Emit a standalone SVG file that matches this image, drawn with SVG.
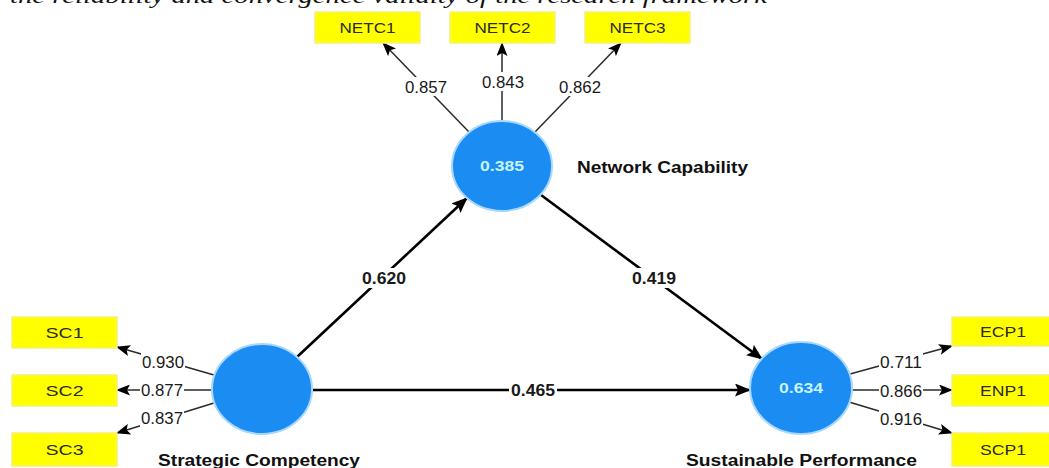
<svg xmlns="http://www.w3.org/2000/svg" width="1049" height="468" viewBox="0 0 1049 468">
<style>
  .box { fill: #ffff00; stroke: #f4f07c; stroke-width: 1.5; }
  .ind { font-family: "Liberation Sans", Arial, sans-serif; font-size: 15px; fill: #2a2a2a; text-anchor: middle; }
  .ld { font-family: "Liberation Sans", Arial, sans-serif; font-size: 16px; fill: #1a1a1a; text-anchor: middle; }
  .pc { font-family: "Liberation Sans", Arial, sans-serif; font-size: 16px; font-weight: bold; fill: #1a1a1a; text-anchor: middle; }
  .lv { fill: #1a8cf2; stroke: #a9d8ff; stroke-width: 2; }
  .r2 { font-family: "Liberation Sans", Arial, sans-serif; font-size: 15px; font-weight: bold; fill: #c6f3ff; text-anchor: middle; }
  .name { font-family: "Liberation Sans", Arial, sans-serif; font-size: 16px; font-weight: bold; fill: #111; }
  .path { stroke: #000; stroke-width: 2.6; fill: none; marker-end: url(#big); }
  .load { stroke: #2a2a2a; stroke-width: 1.5; fill: none; marker-end: url(#small); }
  .bg { fill: #ffffff; }
</style>
<defs>
  <marker id="big" viewBox="0 0 16 13" refX="15" refY="6.5" markerWidth="16" markerHeight="13" orient="auto" markerUnits="userSpaceOnUse">
    <path d="M0,0 L16,6.5 L0,13 L3,6.5 z" fill="#000"/>
  </marker>
  <marker id="small" viewBox="0 0 14 11" refX="13" refY="5.5" markerWidth="14" markerHeight="11" orient="auto" markerUnits="userSpaceOnUse">
    <path d="M0,0 L14,5.5 L0,11 L3,5.5 z" fill="#000"/>
  </marker>
</defs>
<rect width="1049" height="468" fill="#ffffff"/>
<text x="10" y="3" font-family="Liberation Serif, serif" font-style="italic" font-size="22" textLength="757" lengthAdjust="spacingAndGlyphs" fill="#111">the reliability and convergence validity of the research framework</text>

<g id="connectors">
  <line class="path" x1="297" y1="357" x2="467" y2="198"/>
  <line class="path" x1="541" y1="195" x2="762" y2="359"/>
  <line class="path" x1="313" y1="390" x2="750" y2="390"/>
  <line class="load" x1="469" y1="132" x2="383" y2="43"/>
  <line class="load" x1="502" y1="121" x2="502" y2="43"/>
  <line class="load" x1="535" y1="132" x2="621" y2="43"/>
  <line class="load" x1="214" y1="375" x2="117" y2="347"/>
  <line class="load" x1="212" y1="390" x2="117" y2="390"/>
  <line class="load" x1="214" y1="403" x2="117" y2="433"/>
  <line class="load" x1="850" y1="374" x2="952" y2="346"/>
  <line class="load" x1="852" y1="390" x2="952" y2="390"/>
  <line class="load" x1="849" y1="402" x2="952" y2="433"/>
  <rect class="bg" x="404" y="77" width="44" height="19"/>
  <text class="ld" x="426" y="93" textLength="42" lengthAdjust="spacingAndGlyphs">0.857</text>
  <rect class="bg" x="481" y="72" width="44" height="19"/>
  <text class="ld" x="503" y="88" textLength="42" lengthAdjust="spacingAndGlyphs">0.843</text>
  <rect class="bg" x="558" y="77" width="44" height="19"/>
  <text class="ld" x="580" y="93" textLength="42" lengthAdjust="spacingAndGlyphs">0.862</text>
  <rect class="bg" x="141" y="353" width="44" height="19"/>
  <text class="ld" x="163" y="368" textLength="42" lengthAdjust="spacingAndGlyphs">0.930</text>
  <rect class="bg" x="140" y="381" width="44" height="19"/>
  <text class="ld" x="162" y="396" textLength="42" lengthAdjust="spacingAndGlyphs">0.877</text>
  <rect class="bg" x="140" y="409" width="44" height="19"/>
  <text class="ld" x="162" y="424" textLength="42" lengthAdjust="spacingAndGlyphs">0.837</text>
  <rect class="bg" x="879" y="353" width="44" height="19"/>
  <text class="ld" x="901" y="368" textLength="42" lengthAdjust="spacingAndGlyphs">0.711</text>
  <rect class="bg" x="879" y="382" width="44" height="19"/>
  <text class="ld" x="901" y="397" textLength="42" lengthAdjust="spacingAndGlyphs">0.866</text>
  <rect class="bg" x="879" y="410" width="44" height="19"/>
  <text class="ld" x="901" y="425" textLength="42" lengthAdjust="spacingAndGlyphs">0.916</text>
  <rect class="bg" x="360" y="268" width="48" height="20"/>
  <text class="pc" x="384" y="284" textLength="44" lengthAdjust="spacingAndGlyphs">0.620</text>
  <rect class="bg" x="630" y="268" width="48" height="20"/>
  <text class="pc" x="654" y="284" textLength="44" lengthAdjust="spacingAndGlyphs">0.419</text>
  <rect class="bg" x="509" y="380" width="48" height="20"/>
  <text class="pc" x="533" y="396" textLength="44" lengthAdjust="spacingAndGlyphs">0.465</text>
</g>

<g id="NETC1"><rect class="box" x="315" y="12" width="105" height="31"/><text class="ind" x="367.5" y="33" textLength="56" lengthAdjust="spacingAndGlyphs">NETC1</text></g>
<g id="NETC2"><rect class="box" x="450" y="12" width="105" height="31"/><text class="ind" x="502.5" y="33" textLength="56" lengthAdjust="spacingAndGlyphs">NETC2</text></g>
<g id="NETC3"><rect class="box" x="585" y="12" width="105" height="31"/><text class="ind" x="637.5" y="33" textLength="56" lengthAdjust="spacingAndGlyphs">NETC3</text></g>
<g id="SC1"><rect class="box" x="12" y="317" width="105" height="31"/><text class="ind" x="64.5" y="338" textLength="38" lengthAdjust="spacingAndGlyphs">SC1</text></g>
<g id="SC2"><rect class="box" x="12" y="375" width="105" height="31"/><text class="ind" x="64.5" y="396" textLength="38" lengthAdjust="spacingAndGlyphs">SC2</text></g>
<g id="SC3"><rect class="box" x="12" y="433" width="105" height="33"/><text class="ind" x="64.5" y="455" textLength="38" lengthAdjust="spacingAndGlyphs">SC3</text></g>
<g id="ECP1"><rect class="box" x="952" y="317" width="105" height="29"/><text class="ind" x="1003" y="337" textLength="46" lengthAdjust="spacingAndGlyphs">ECP1</text></g>
<g id="ENP1"><rect class="box" x="952" y="375" width="105" height="31"/><text class="ind" x="1003" y="396" textLength="46" lengthAdjust="spacingAndGlyphs">ENP1</text></g>
<g id="SCP1"><rect class="box" x="952" y="433" width="105" height="33"/><text class="ind" x="1003" y="455" textLength="46" lengthAdjust="spacingAndGlyphs">SCP1</text></g>

<g id="NetworkCapability">
  <ellipse class="lv" cx="502" cy="166" rx="50" ry="45"/>
  <text class="r2" x="502" y="171" textLength="44" lengthAdjust="spacingAndGlyphs">0.385</text>
  <text class="name" x="577" y="173" textLength="171" lengthAdjust="spacingAndGlyphs">Network Capability</text>
</g>
<g id="StrategicCompetency">
  <ellipse class="lv" cx="262" cy="389" rx="50" ry="45"/>
  <text class="name" x="158" y="466" textLength="202" lengthAdjust="spacingAndGlyphs">Strategic Competency</text>
</g>
<g id="SustainablePerformance">
  <ellipse class="lv" cx="801" cy="388" rx="51" ry="46"/>
  <text class="r2" x="801" y="393" textLength="44" lengthAdjust="spacingAndGlyphs">0.634</text>
  <text class="name" x="686" y="466" textLength="231" lengthAdjust="spacingAndGlyphs">Sustainable Performance</text>
</g>
</svg>
